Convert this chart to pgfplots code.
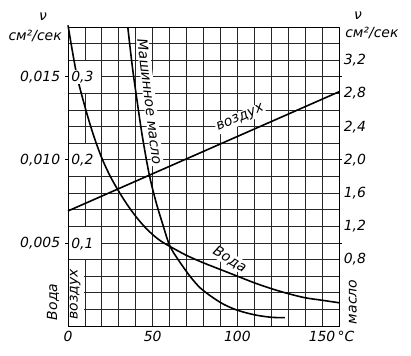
\documentclass[border=0pt]{standalone}
\usepackage{fontspec}
\setmainfont{DejaVu Sans}[ItalicFont={* Oblique}]
\usepackage{pgfplots}
\usepackage{pgfplotstable}
\pgfplotsset{compat=1.18}

% water, kinematic viscosity cm^2/s (left outer scale)
\pgfplotstableread{
t nu
0 0.0181
5 0.0152
10 0.0132
15 0.0115
20 0.0101
25 0.0090
30 0.0081
35 0.0073
40 0.0066
45 0.0060
50 0.0055
55 0.0051
60 0.0048
70 0.00425
80 0.0038
90 0.0034
100 0.0030
110 0.0026
120 0.00225
130 0.00195
140 0.0017
150 0.00155
160 0.0014
}\water

% air, cm^2/s (left inner scale)
\pgfplotstableread{
t nu
0 0.1385
160 0.2820
}\air

% machine oil, cm^2/s (right scale)
\pgfplotstableread{
t nu
35.3 3.60
38 3.12
41 2.68
44 2.27
48 1.82
52 1.49
56 1.22
60 0.97
65 0.80
72 0.60
78 0.46
85 0.35
92 0.26
100 0.19
110 0.135
120 0.105
128 0.10
}\oil

\begin{document}
\fontsize{14}{16}\selectfont\itshape
\begin{tikzpicture}
\begin{axis}[
  at={(0,0)}, anchor=south west,
  scale only axis, width=271bp, height=299bp,
  xmin=0, xmax=160, ymin=0, ymax=3.6,
  xtick={0,10,...,160},
  xticklabels={0,,,,,50,,,,,100,,,,,{150\rlap{\,°C}},},
  ytick={0,0.2,...,3.6}, yticklabels={},
  extra y ticks={1,2,3},
  extra y tick labels={{0,005},{0,010},{0,015}},
  extra y tick style={grid=none, major tick length=3pt, tick align=outside,
     tick style={black, line width=0.8pt}},
  grid=major, major grid style={black!85, line width=0.8pt},
  major tick length=0pt,
  axis line style={black, line width=1pt},
  tick label style={font=\fontsize{14}{16}\selectfont\itshape},
  /pgf/number format/assume math mode=true,
  clip=false,
]
% label cells without inner grid lines
\fill[white] (axis cs:0.3,0.806) rectangle (axis cs:19.7,1.194);
\fill[white] (axis cs:0.3,1.806) rectangle (axis cs:19.7,2.194);
\fill[white] (axis cs:0.3,2.806) rectangle (axis cs:19.7,3.194);
\fill[white] (axis cs:0.3,0.006) rectangle (axis cs:9.7,0.794);

\addplot[black, line width=1.6pt, smooth, tension=0.5] table[x=t, y expr=\thisrow{nu}*200] {\water};
\addplot[black, line width=1.6pt] table[x=t, y expr=\thisrow{nu}*10] {\air};
\addplot[black, line width=1.6pt, smooth, tension=0.5] table[x=t, y=nu] {\oil};

\node[fill=white, inner sep=1pt] at (axis cs:8.5,3.0) {0,3};
\node[fill=white, inner sep=1pt] at (axis cs:8.5,2.0) {0,2};
\node[fill=white, inner sep=1pt] at (axis cs:8.5,0.98) {0,1};
\node[rotate=90] at (axis cs:4.2,0.38) {воздух};

\node[rotate=-83, fill=white, inner sep=1pt] at (axis cs:48.3,2.70) {Машинное масло};
\node[rotate=23.7, fill=white, inner sep=1pt] at (axis cs:101.8,2.50) {воздух};
\node[rotate=-31, fill=white, inner sep=0.5pt] at (axis cs:95.5,0.80) {Вода};

\node[rotate=90] at (axis cs:-8.8,0.29) {Вода};
\node[rotate=90] at (axis cs:168.2,0.29) {масло};

\node at (axis cs:-14.7,3.72) {ν};
\node at (axis cs:-19.4,3.49) {см²/сек};
\node at (axis cs:171.2,3.74) {ν};
\node at (axis cs:179.4,3.53) {см²/сек};
\end{axis}
\begin{axis}[
  at={(0,0)}, anchor=south west,
  scale only axis, width=271bp, height=299bp,
  xmin=0, xmax=160, ymin=0, ymax=3.6,
  axis x line=none, axis y line*=right,
  axis line style={draw=none},
  ytick={0.8,1.2,1.6,2.0,2.4,2.8,3.2},
  yticklabels={{0,8},{1,2},{1,6},{2,0},{2,4},{2,8},{3,2}},
  major tick length=0pt,
  tick label style={font=\fontsize{14}{16}\selectfont\itshape},
  /pgf/number format/assume math mode=true,
]
\end{axis}
\pgfresetboundingbox
\useasboundingbox (-68bp,-30bp) rectangle (343bp,326bp);
\end{tikzpicture}
\end{document}
